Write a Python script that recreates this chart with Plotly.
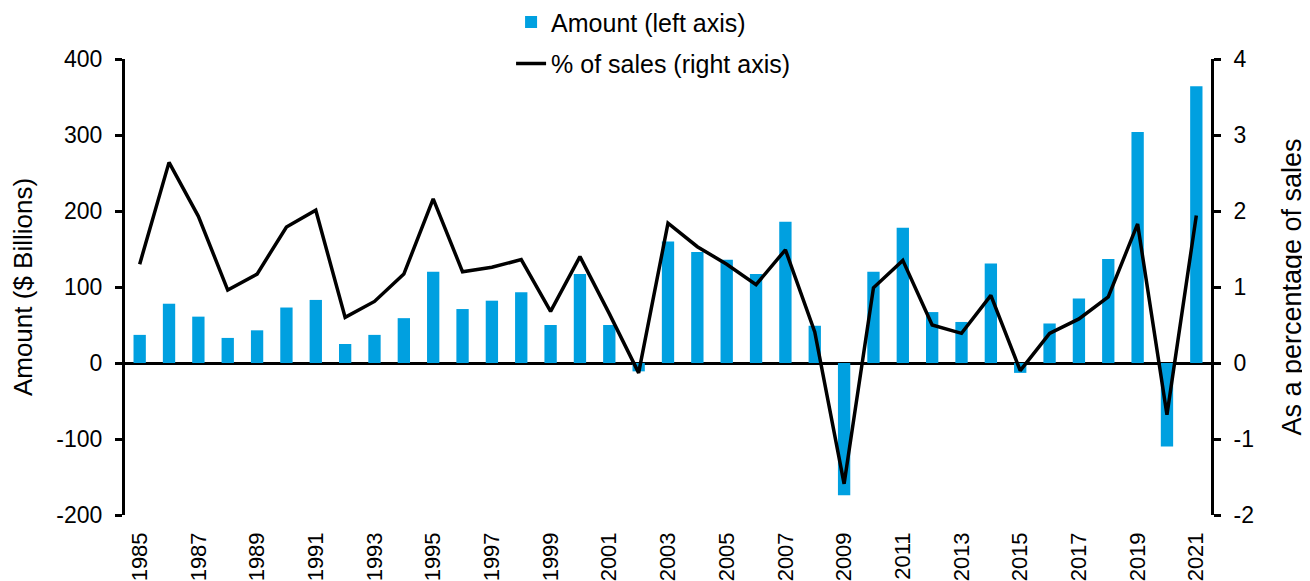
import plotly.graph_objects as go

years = list(range(1985, 2022))
amount = [37, 78, 61, 33, 43, 73, 83, 25, 37, 59, 120, 71, 82, 93, 50, 117, 50, -11,
          160, 146, 136, 117, 186, 49, -174, 120, 178, 67, 54, 131, -13, 52, 85, 137,
          304, -110, 364]
pct_sales = [1.30, 2.64, 1.93, 0.96, 1.17, 1.79, 2.01, 0.60, 0.81, 1.17, 2.16, 1.20,
             1.26, 1.36, 0.68, 1.40, 0.65, -0.13, 1.84, 1.53, 1.30, 1.03, 1.49, 0.41,
             -1.59, 0.99, 1.35, 0.50, 0.39, 0.89, -0.10, 0.39, 0.58, 0.87, 1.83, -0.68,
             1.94]
tick_years = list(range(1985, 2022, 2))
left_ticks = [-200, -100, 0, 100, 200, 300, 400]
right_ticks = [-2, -1, 0, 1, 2, 3, 4]

FONT = "Liberation Sans, Arial, sans-serif"

fig = go.Figure()
fig.add_trace(go.Bar(
    x=years, y=amount, name="Amount (left axis)",
    marker=dict(color="#00A0E0", line=dict(width=0)),
    width=0.42, legendgroup="a",
))
fig.add_trace(go.Scatter(
    x=years, y=pct_sales, name="% of sales (right axis)", mode="lines",
    line=dict(color="black", width=3.5), yaxis="y2", legendgroup="b",
))

axis_common = dict(
    showgrid=False, showline=True, linecolor="black", linewidth=3,
    ticks="outside", ticklen=7, tickwidth=3, tickcolor="black",
    automargin=False, tickfont=dict(size=23), ticklabelstandoff=8,
)

fig.update_layout(
    width=1302, height=573,
    margin=dict(l=117, r=99, t=51, b=66, autoexpand=False),
    plot_bgcolor="white", paper_bgcolor="white",
    font=dict(family=FONT, size=22, color="black"),
    showlegend=True,
    legend=dict(x=0.3555, xanchor="left", xref="paper",
                y=1.131, yanchor="top", yref="paper",
                orientation="v", traceorder="grouped", tracegroupgap=6,
                font=dict(size=25), bgcolor="rgba(0,0,0,0)"),
    xaxis=dict(
        range=[1984.5, 2021.5], tickmode="array", tickvals=tick_years,
        ticktext=[str(y) for y in tick_years], tickangle=-90,
        showgrid=False, showline=False, zeroline=False, ticks="",
        tickfont=dict(size=22), automargin=False, ticklabelstandoff=12,
    ),
    yaxis=dict(
        range=[-200, 400], tickmode="array", tickvals=left_ticks,
        ticktext=[str(v) for v in left_ticks],
        zeroline=True, zerolinecolor="black", zerolinewidth=3,
        title=dict(text="Amount ($ Billions)", font=dict(size=26), standoff=21),
        **axis_common,
    ),
    yaxis2=dict(
        range=[-2, 4], tickmode="array", tickvals=right_ticks,
        ticktext=[str(v) for v in right_ticks],
        overlaying="y", side="right", zeroline=False,
        title=dict(text="As a percentage of sales", font=dict(size=27), standoff=30),
        **axis_common,
    ),
)

fig.write_html("out.html")
